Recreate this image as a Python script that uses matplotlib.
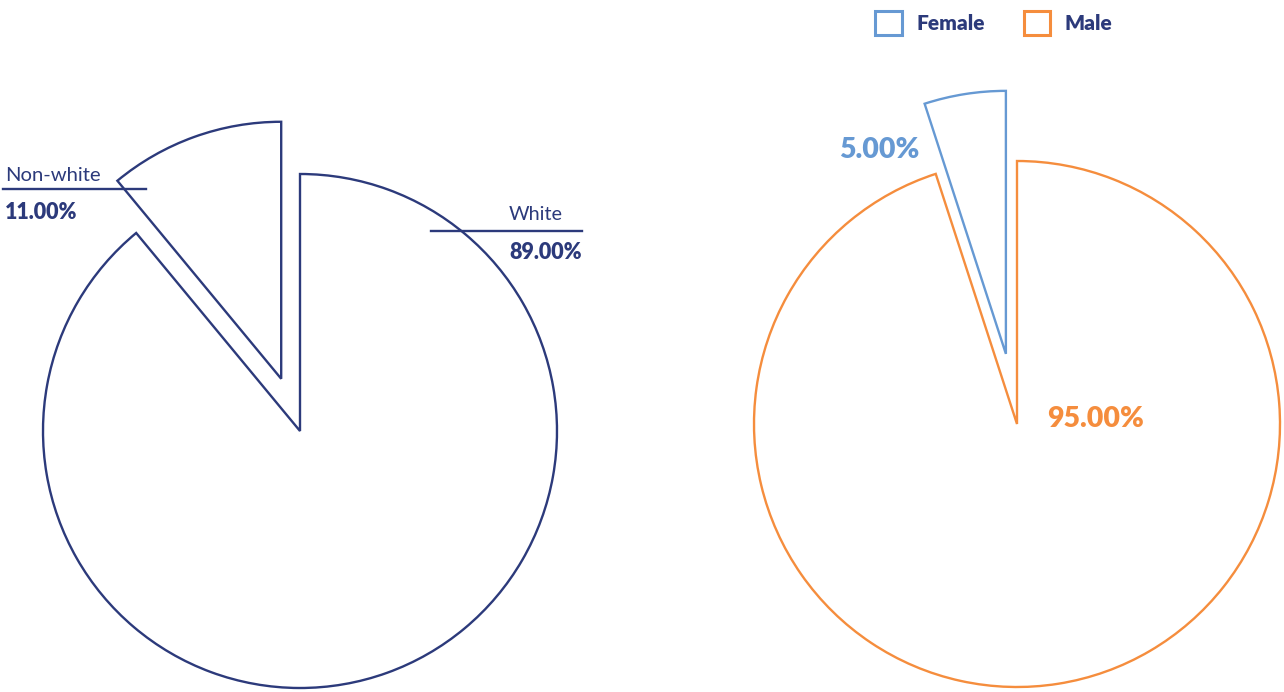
import matplotlib
matplotlib.use("Agg")
import matplotlib.pyplot as plt

plt.rcParams['font.family'] = ['Lato', 'DejaVu Sans']

# Ethnicity split
eth_labels = ["White", "Non-white"]
eth_values = [89.0, 11.0]

# Gender split
gen_labels = ["Female", "Male"]
gen_values = [5.0, 95.0]

NAVY = "#2c3a7b"
BLUE = "#6699d3"
ORANGE = "#f58d3d"

W, H = 1284, 692
fig = plt.figure(figsize=(W / 100, H / 100), dpi=100)
ax = fig.add_axes([0, 0, 1, 1])

# Left pie: white clockwise from 12 o'clock, non-white pulled out
ax.pie(eth_values, startangle=90, counterclock=False,
       center=(300, 261), radius=257, explode=[0, 0.216 * 257],
       colors=["none", "none"],
       wedgeprops=dict(edgecolor=NAVY, linewidth=1.7, joinstyle="miter"),
       frame=True)

# Right pie: female slice pulled out
wedges, _ = ax.pie(gen_values, startangle=90, counterclock=True,
                   center=(1017, 268), radius=263, explode=[0.27 * 263, 0],
                   colors=["none", "none"],
                   wedgeprops=dict(linewidth=1.7, joinstyle="miter"),
                   frame=True)
wedges[0].set_edgecolor(BLUE)
wedges[1].set_edgecolor(ORANGE)

ax.set_xlim(0, W)
ax.set_ylim(0, H)
ax.set_aspect("equal")
ax.axis("off")

# Left labels with leader lines
ax.plot([431, 582], [H - 231, H - 231], color=NAVY, lw=1.7)
ax.text(563, H - 220, eth_labels[0], ha="right", va="baseline",
        color=NAVY, fontsize=14.3)
ax.text(582, H - 259, f"{eth_values[0]:.2f}%", ha="right", va="baseline",
        color=NAVY, fontsize=15.5, fontweight="heavy")

ax.plot([3, 146], [H - 189, H - 189], color=NAVY, lw=1.7)
ax.text(5, H - 181, eth_labels[1], ha="left", va="baseline",
        color=NAVY, fontsize=14.6)
ax.text(5, H - 219, f"{eth_values[1]:.2f}%", ha="left", va="baseline",
        color=NAVY, fontsize=15.5, fontweight="heavy")

# Right value labels
ax.text(919, H - 158, f"{gen_values[0]:.2f}%", ha="right", va="baseline",
        color=BLUE, fontsize=20.5, fontweight="heavy")
ax.text(1047, H - 427, f"{gen_values[1]:.2f}%", ha="left", va="baseline",
        color=ORANGE, fontsize=20.5, fontweight="heavy")

# Legend
leg = ax.legend(wedges, gen_labels, loc="upper left",
                bbox_to_anchor=(864 / W, 1.0), ncol=2, frameon=False,
                handlelength=1.25, handleheight=1.35, handletextpad=0.7,
                columnspacing=1.9, borderaxespad=0.15,
                prop=dict(family=['Lato', 'DejaVu Sans'], size=15, weight="heavy"))
for t in leg.get_texts():
    t.set_color(NAVY)
for h in leg.legend_handles:
    h.set_linewidth(2.2)

fig.savefig("out.png", dpi=100)
